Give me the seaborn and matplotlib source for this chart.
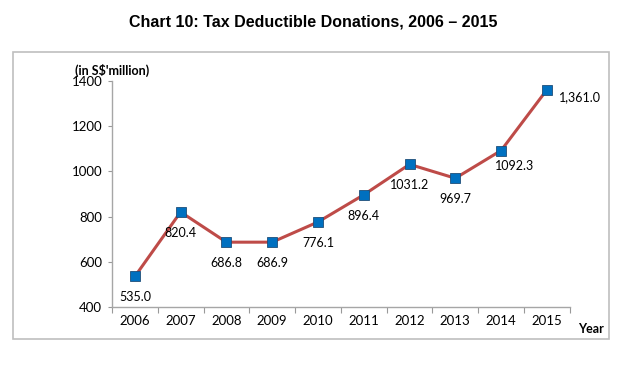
import matplotlib
matplotlib.use("Agg")
import matplotlib.pyplot as plt
import seaborn as sns
import pandas as pd
from matplotlib.patches import Rectangle

years = [2006, 2007, 2008, 2009, 2010, 2011, 2012, 2013, 2014, 2015]
donations = [535.0, 820.4, 686.8, 686.9, 776.1, 896.4, 1031.2, 969.7, 1092.3, 1361.0]
labels = ["535.0", "820.4", "686.8", "686.9", "776.1", "896.4", "1031.2", "969.7", "1092.3", "1,361.0"]

df = pd.DataFrame({"pos": range(len(years)), "value": donations})

sns.set_style("white")
plt.rcParams["font.family"] = ["Lato", "DejaVu Sans"]
plt.rcParams["text.color"] = "black"
plt.rcParams["xtick.color"] = "black"
plt.rcParams["ytick.color"] = "black"

fig = plt.figure(figsize=(6.38, 3.71), dpi=100)
ax = fig.add_axes([0.1755, 0.1725, 0.7175, 0.6092])

# outer frame
fig.patches.append(Rectangle((13 / 638, 1 - 339 / 371), (609 - 13) / 638, (339 - 52) / 371,
                             transform=fig.transFigure, fill=False, edgecolor="#bfbfbf", lw=1.2))

sns.lineplot(data=df, x="pos", y="value", ax=ax, color="#be4b48", lw=2.2,
             marker="s", markersize=7, markerfacecolor="#0070c0", markeredgecolor="#1f4e79",
             markeredgewidth=0.6)

# data labels
for i, (v, t) in enumerate(zip(donations, labels)):
    if i == 9:
        ax.annotate(t, (i, v), xytext=(9, -5), textcoords="offset points", ha="left", va="center", fontsize=9)
    elif i == 8:
        ax.annotate(t, (i, v), xytext=(10, -11), textcoords="offset points", ha="center", va="center", fontsize=9)
    else:
        ax.annotate(t, (i, v), xytext=(0, -15), textcoords="offset points", ha="center", va="center", fontsize=9)

ax.set_xlim(-0.5, 9.5)
ax.set_ylim(400, 1400)
ax.set_yticks(range(400, 1401, 200))
ax.set_xticks([i + 0.5 for i in range(-1, 10)])
ax.set_xticklabels([])
ax.set_xticks(range(10), minor=True)
ax.set_xticklabels([str(y) for y in years], minor=True)
ax.tick_params(axis="x", which="major", length=4, color="#999999", direction="out", bottom=True)
ax.tick_params(axis="x", which="minor", length=0, labelsize=9.5, pad=6)
ax.tick_params(axis="y", length=3, color="#999999", direction="out", left=True, labelsize=9.5, pad=4)
ax.set_xlabel("")
ax.set_ylabel("")

for s in ["top", "right"]:
    ax.spines[s].set_visible(False)
for s in ["left", "bottom"]:
    ax.spines[s].set_color("#a6a6a6")
    ax.spines[s].set_linewidth(1.0)

fig.text(313 / 638, 1 - 22 / 371, "Chart 10: Tax Deductible Donations, 2006 \u2013 2015",
         ha="center", va="center", fontsize=11.5, fontweight="bold", family=["Liberation Sans", "DejaVu Sans"])
fig.text(75 / 638, 1 - 70 / 371, "(in S$'million)", ha="left", va="center", fontsize=9, fontweight="bold")
fig.text(578 / 638, 1 - 329 / 371, "Year", ha="left", va="center", fontsize=9, fontweight="bold")

fig.savefig("out.png", dpi=100)
